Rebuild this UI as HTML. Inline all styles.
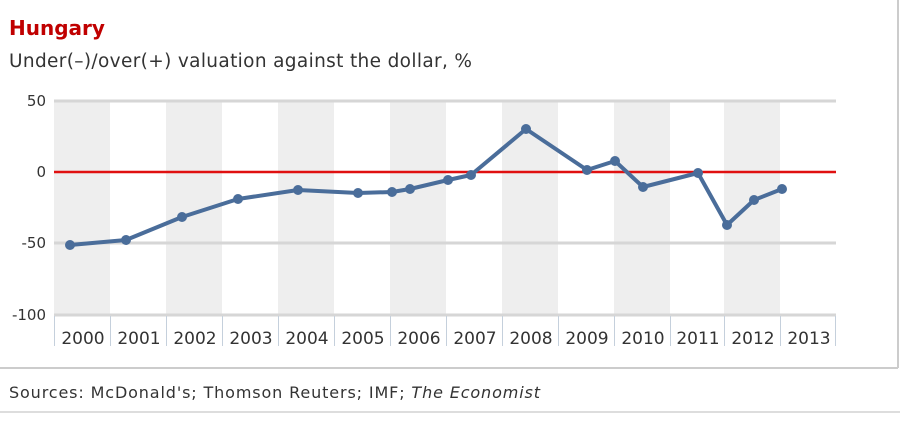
<!DOCTYPE html>
<html><head><style>
body{margin:0;background:#fff;width:900px;height:417px;overflow:hidden;font-family:"DejaVu Sans","Liberation Sans",sans-serif}
</style></head><body>
<svg width="900" height="417" xmlns="http://www.w3.org/2000/svg" font-family="DejaVu Sans, Liberation Sans, sans-serif">
<line x1="0" y1="368" x2="898" y2="368" stroke="#ccc" stroke-width="2"/>
<line x1="898" y1="0" x2="898" y2="368" stroke="#ccc" stroke-width="2"/>
<line x1="0" y1="412" x2="900" y2="412" stroke="#ddd" stroke-width="2"/>
<text x="9" y="35" font-size="20" font-weight="bold" fill="#c00000">Hungary</text>
<text x="9" y="67" font-size="18.5" fill="#333" textLength="463">Under(–)/over(+) valuation against the dollar, %</text>
<g fill="#eeeeee">
<rect x="54" y="101" width="56" height="215"/><rect x="166" y="101" width="56" height="215"/>
<rect x="278" y="101" width="56" height="215"/><rect x="390" y="101" width="56" height="215"/>
<rect x="502" y="101" width="56" height="215"/><rect x="614" y="101" width="56" height="215"/>
<rect x="724" y="101" width="56" height="215"/>
</g>
<g stroke="#d6d6d6" stroke-width="3">
<line x1="54" y1="101" x2="836" y2="101"/><line x1="54" y1="243" x2="836" y2="243"/><line x1="54" y1="315" x2="836" y2="315"/>
</g>
<line x1="54" y1="172" x2="836" y2="172" stroke="#e01010" stroke-width="2.5"/>
<g stroke="#c5d0dc" stroke-width="1">
<line x1="54.5" y1="316" x2="54.5" y2="346"/><line x1="110.5" y1="316" x2="110.5" y2="346"/><line x1="166.5" y1="316" x2="166.5" y2="346"/><line x1="222.5" y1="316" x2="222.5" y2="346"/><line x1="278.5" y1="316" x2="278.5" y2="346"/><line x1="334.5" y1="316" x2="334.5" y2="346"/><line x1="390.5" y1="316" x2="390.5" y2="346"/><line x1="446.5" y1="316" x2="446.5" y2="346"/><line x1="502.5" y1="316" x2="502.5" y2="346"/><line x1="558.5" y1="316" x2="558.5" y2="346"/><line x1="614.5" y1="316" x2="614.5" y2="346"/><line x1="670.5" y1="316" x2="670.5" y2="346"/><line x1="724.5" y1="316" x2="724.5" y2="346"/><line x1="780.5" y1="316" x2="780.5" y2="346"/><line x1="835.5" y1="316" x2="835.5" y2="346"/>
</g>
<g font-size="15" fill="#333" text-anchor="end">
<text x="46" y="106">50</text><text x="46" y="177">0</text><text x="46" y="248">-50</text><text x="46" y="320">-100</text>
</g>
<g font-size="17" fill="#333" text-anchor="middle">
<text x="83" y="344">2000</text><text x="139" y="344">2001</text><text x="195" y="344">2002</text><text x="251" y="344">2003</text><text x="307" y="344">2004</text><text x="363" y="344">2005</text><text x="419" y="344">2006</text><text x="475" y="344">2007</text><text x="531" y="344">2008</text><text x="587" y="344">2009</text><text x="643" y="344">2010</text><text x="698" y="344">2011</text><text x="753" y="344">2012</text><text x="809" y="344">2013</text>
</g>
<polyline fill="none" stroke="#4a6d9a" stroke-width="4" stroke-linejoin="round" points="70,245 126,240 182,217 238,199 298,190 358,193 392,192 410,189 448,180 471,175 526,129 587,170 615,161 643,187 698,173 727,225 754,200 782,189"/>
<g fill="#4a6d9a">
<circle cx="70" cy="245" r="5"/><circle cx="126" cy="240" r="5"/><circle cx="182" cy="217" r="5"/><circle cx="238" cy="199" r="5"/><circle cx="298" cy="190" r="5"/><circle cx="358" cy="193" r="5"/><circle cx="392" cy="192" r="5"/><circle cx="410" cy="189" r="5"/><circle cx="448" cy="180" r="5"/><circle cx="471" cy="175" r="5"/><circle cx="526" cy="129" r="5"/><circle cx="587" cy="170" r="5"/><circle cx="615" cy="161" r="5"/><circle cx="643" cy="187" r="5"/><circle cx="698" cy="173" r="5"/><circle cx="727" cy="225" r="5"/><circle cx="754" cy="200" r="5"/><circle cx="782" cy="189" r="5"/>
</g>
<text x="9" y="398" font-size="16" fill="#333" textLength="531">Sources: McDonald's; Thomson Reuters; IMF; <tspan font-style="italic">The Economist</tspan></text>
</svg>
</body></html>
